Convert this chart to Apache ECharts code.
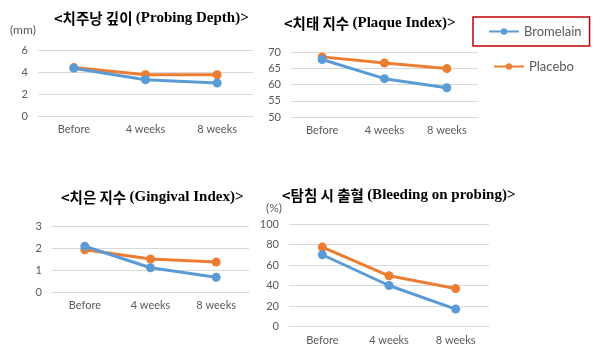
<!DOCTYPE html>
<html>
<head>
<meta charset="utf-8">
<script src="https://cdn.jsdelivr.net/npm/echarts@6/dist/echarts.min.js"></script>
<style>html,body{margin:0;padding:0;background:#fff}#c{width:600px;height:362px}</style>
</head>
<body>
<div id="c"></div>
<script>
var categories = ['Before', '4 weeks', '8 weeks'];
var seriesNames = ['Bromelain', 'Placebo'];
// Probing Depth (mm)
var pdBromelain = [4.35, 3.3, 3.0];
var pdPlacebo = [4.4, 3.75, 3.75];
// Plaque Index
var piBromelain = [67.7, 61.8, 59.0];
var piPlacebo = [68.5, 66.6, 64.9];
// Gingival Index
var giBromelain = [2.08, 1.1, 0.67];
var giPlacebo = [1.92, 1.5, 1.36];
// Bleeding on probing (%)
var bopBromelain = [70, 40, 17];
var bopPlacebo = [77.5, 49.5, 37];

var titlesKo = ['<치주낭 깊이 ', '<치태 지수 ', '<치은 지수 ', '<탐침 시 출혈 '];
var titlesEn = ['(Probing Depth)>', '(Plaque Index)>', '(Gingival Index)>', '(Bleeding on probing)>'];

var blue = '#5B9BD5', orange = '#ED7D31', gray = '#595959', gridc = '#D9D9D9';

var grids = [
  {left: 38, top: 50, width: 215, height: 66},
  {left: 291, top: 52, width: 187, height: 65},
  {left: 52, top: 226, width: 197, height: 66},
  {left: 289, top: 224, width: 200, height: 102.5}
];
var yCfg = [
  {min: 0, max: 6, interval: 2},
  {min: 50, max: 70, interval: 5},
  {min: 0, max: 3, interval: 1},
  {min: 0, max: 100, interval: 20}
];
var data = [
  [pdBromelain, pdPlacebo],
  [piBromelain, piPlacebo],
  [giBromelain, giPlacebo],
  [bopBromelain, bopPlacebo]
];
var titlePos = [
  {left: 54, top: 11},
  {left: 284, top: 16},
  {left: 61, top: 190},
  {left: 282, top: 188}
];

var xAxes = [], yAxes = [], series = [], titles = [];
grids.forEach(function (g, i) {
  xAxes.push({
    type: 'category', gridIndex: i, data: categories, boundaryGap: true,
    axisLine: {lineStyle: {color: gridc}}, axisTick: {show: false},
    axisLabel: {color: gray, fontSize: 11, fontFamily: 'Lato', margin: 8}
  });
  yAxes.push({
    type: 'value', gridIndex: i, min: yCfg[i].min, max: yCfg[i].max, interval: yCfg[i].interval,
    axisLine: {show: false}, axisTick: {show: false},
    axisLabel: {color: gray, fontSize: 11, fontFamily: 'Lato', margin: 10},
    splitLine: {lineStyle: {color: gridc}}
  });
  [blue, orange].forEach(function (col, k) {
    series.push({
      type: 'line', name: seriesNames[k], xAxisIndex: i, yAxisIndex: i,
      data: data[i][k], symbol: 'circle', symbolSize: 9,
      lineStyle: {color: col, width: 3}, itemStyle: {color: col},
      z: k === 0 ? 3 : 2
    });
  });
  titles.push({
    text: '{k|' + titlesKo[i] + '}{e|' + titlesEn[i] + '}',
    left: titlePos[i].left, top: titlePos[i].top, padding: 0,
    textStyle: {
      rich: {
        k: {fontFamily: 'Noto Sans CJK KR', fontWeight: 'bold', fontSize: 14.5, color: '#000'},
        e: {fontFamily: 'Liberation Serif', fontWeight: 'bold', fontSize: 15, color: '#000'}
      }
    }
  });
});

var chart = echarts.init(document.getElementById('c'), null, {renderer: 'canvas'});
chart.setOption({
  animation: false,
  backgroundColor: '#fff',
  title: titles,
  grid: grids,
  xAxis: xAxes,
  yAxis: yAxes,
  legend: [
    {data: ['Bromelain'], left: 473, top: 17, padding: [8, 8, 8, 15], itemWidth: 30, itemHeight: 8,
     borderColor: '#C00000', borderWidth: 1.5, borderRadius: 0,
     textStyle: {color: gray, fontSize: 13, fontFamily: 'Lato'}},
    {data: ['Placebo'], left: 493, top: 60, padding: 0, itemWidth: 30, itemHeight: 8,
     textStyle: {color: gray, fontSize: 13, fontFamily: 'Lato'}}
  ],
  graphic: [
    {type: 'text', left: 10, top: 24, style: {text: '(mm)', fill: gray, font: '12px Lato'}},
    {type: 'text', left: 266, top: 202, style: {text: '(%)', fill: gray, font: '12px Lato'}}
  ],
  series: series
});
</script>
</body>
</html>
